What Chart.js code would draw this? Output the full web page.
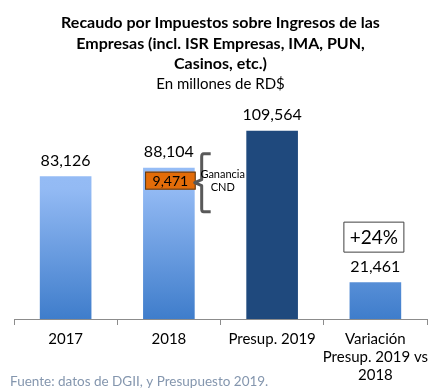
<!DOCTYPE html>
<html>
<head>
<meta charset="utf-8">
<script src="https://cdn.jsdelivr.net/npm/chart.js@4.4.1/dist/chart.umd.min.js"></script>
<style>
html, body { margin: 0; padding: 0; background: #fff; }
#wrap { width: 441px; height: 390px; position: relative; }
</style>
</head>
<body>
<div id="wrap"><canvas id="chart" width="441" height="390"></canvas></div>
<script>
// datos del grafico
var categorias = [["2017"], ["2018"], ["Presup. 2019"], ["Variación", "Presup. 2019 vs", "2018"]];
var valores = [83126, 88104, 109564, 21461];
var gananciaCND = 9471;
var gananciaTexto = ["Ganancia", "CND"];
var variacionPct = "+24%";
var titulo = ["Recaudo por Impuestos sobre Ingresos de las", "Empresas (incl. ISR Empresas, IMA, PUN,", "Casinos, etc.)"];
var subtitulo = "En millones de RD$";
var fuente = "Fuente: datos de DGII, y Presupuesto 2019.";

var FONT = "Lato, 'Open Sans', sans-serif";

function fmt(v) {
	return v.toLocaleString("en-US");
}

function barColor(ctx) {
	var chart = ctx.chart;
	var area = chart.chartArea;
	if (ctx.dataIndex == 2) return "#1F497D";
	if (!area) return "#7FAAE8";
	var bar = chart.getDatasetMeta(0).data[ctx.dataIndex];
	var top = bar ? bar.y : area.top;
	if (!isFinite(top)) top = area.top;
	var g = chart.ctx.createLinearGradient(0, top, 0, area.bottom);
	g.addColorStop(0, "#9DC3FB");
	g.addColorStop(0.4, "#93BAF4");
	g.addColorStop(1, "#3F7DCB");
	return g;
}

var extrasPlugin = {
	id: "extras",
	afterDatasetsDraw: function(chart) {
		var ctx = chart.ctx;
		var bars = chart.getDatasetMeta(0).data;
		ctx.save();
		ctx.textAlign = "center";
		ctx.textBaseline = "middle";
		ctx.fillStyle = "#000";
		ctx.font = "16px " + FONT;
		for (var i = 0; i < bars.length; i++) {
			ctx.fillText(fmt(valores[i]), bars[i].x, bars[i].y - 15.5);
		}

		// caja naranja dentro de 2018
		var b = bars[1];
		var half = b.width / 2;
		var bx = b.x - half + 2, by = b.y + 4, bw = b.width - 1, bh = 18;
		ctx.fillStyle = "#E36C09";
		ctx.fillRect(bx, by, bw, bh);
		ctx.strokeStyle = "#5A3A1A";
		ctx.lineWidth = 1;
		ctx.strokeRect(bx + 0.5, by + 0.5, bw - 1, bh - 1);
		ctx.fillStyle = "#000";
		ctx.font = "14px " + FONT;
		ctx.fillText(fmt(gananciaCND), bx + bw / 2, by + bh / 2 + 1);

		// llave
		var lx = b.x + half + 7, cy = by + bh / 2 + 2;
		var t = cy - 29, bt = cy + 29;
		ctx.strokeStyle = "#595959";
		ctx.lineWidth = 3;
		ctx.lineJoin = "round";
		ctx.beginPath();
		ctx.moveTo(lx + 9, t);
		ctx.lineTo(lx + 2, t);
		ctx.quadraticCurveTo(lx, t, lx, t + 3);
		ctx.lineTo(lx, cy - 3);
		ctx.lineTo(lx - 7, cy);
		ctx.lineTo(lx, cy + 3);
		ctx.lineTo(lx, bt - 3);
		ctx.quadraticCurveTo(lx, bt, lx + 2, bt);
		ctx.lineTo(lx + 9, bt);
		ctx.stroke();
		ctx.fillStyle = "#000";
		ctx.font = "11px " + FONT;
		ctx.fillText(gananciaTexto[0], lx + 21, cy - 8);
		ctx.fillText(gananciaTexto[1], lx + 21, cy + 5);

		// caja de variacion
		var v = bars[3];
		var vw = 61, vh = 31;
		var vx = v.x - 1.5 - vw / 2, vy = v.y - 45 - vh / 2;
		ctx.fillStyle = "#fff";
		ctx.fillRect(vx, vy, vw, vh);
		ctx.strokeStyle = "#404040";
		ctx.lineWidth = 1;
		ctx.strokeRect(vx + 0.5, vy + 0.5, vw - 1, vh - 1);
		ctx.fillStyle = "#000";
		ctx.font = "19px " + FONT;
		ctx.fillText(variacionPct, vx + vw / 2, vy + vh / 2 + 1);

		// fuente
		ctx.textAlign = "left";
		ctx.fillStyle = "#8496AE";
		ctx.font = "13.5px " + FONT;
		ctx.fillText(fuente, 10, 382);
		ctx.restore();
	}
};

var ctx = document.getElementById("chart");
var chart = new Chart(ctx, {
	type: "bar",
	data: {
		labels: categorias,
		datasets: [{
			data: valores,
			backgroundColor: barColor,
			barPercentage: 0.5,
			categoryPercentage: 1.0
		}]
	},
	options: {
		responsive: false,
		animation: false,
		layout: { padding: { left: 14, right: 14, top: 0, bottom: 1 } },
		plugins: {
			legend: { display: false },
			tooltip: { enabled: false },
			title: {
				display: true,
				text: titulo,
				color: "#000",
				font: { family: FONT, size: 16, weight: "bold", lineHeight: 1.28 },
				padding: { top: 13, bottom: 0 }
			},
			subtitle: {
				display: true,
				text: subtitulo,
				color: "#000",
				font: { family: FONT, size: 15, lineHeight: 1.35 },
				padding: { top: 0, bottom: 7 }
			}
		},
		scales: {
			x: {
				grid: { drawOnChartArea: false, color: "#8C8C8C", tickLength: 6, offset: true },
				border: { color: "#8C8C8C", width: 1 },
				ticks: {
					color: "#000",
					font: { family: FONT, size: 15, lineHeight: 1.2 },
					maxRotation: 0,
					autoSkip: false,
					padding: 5
				}
			},
			y: {
				display: false,
				min: 0,
				max: 126500
			}
		}
	},
	plugins: [extrasPlugin]
});
</script>
</body>
</html>
